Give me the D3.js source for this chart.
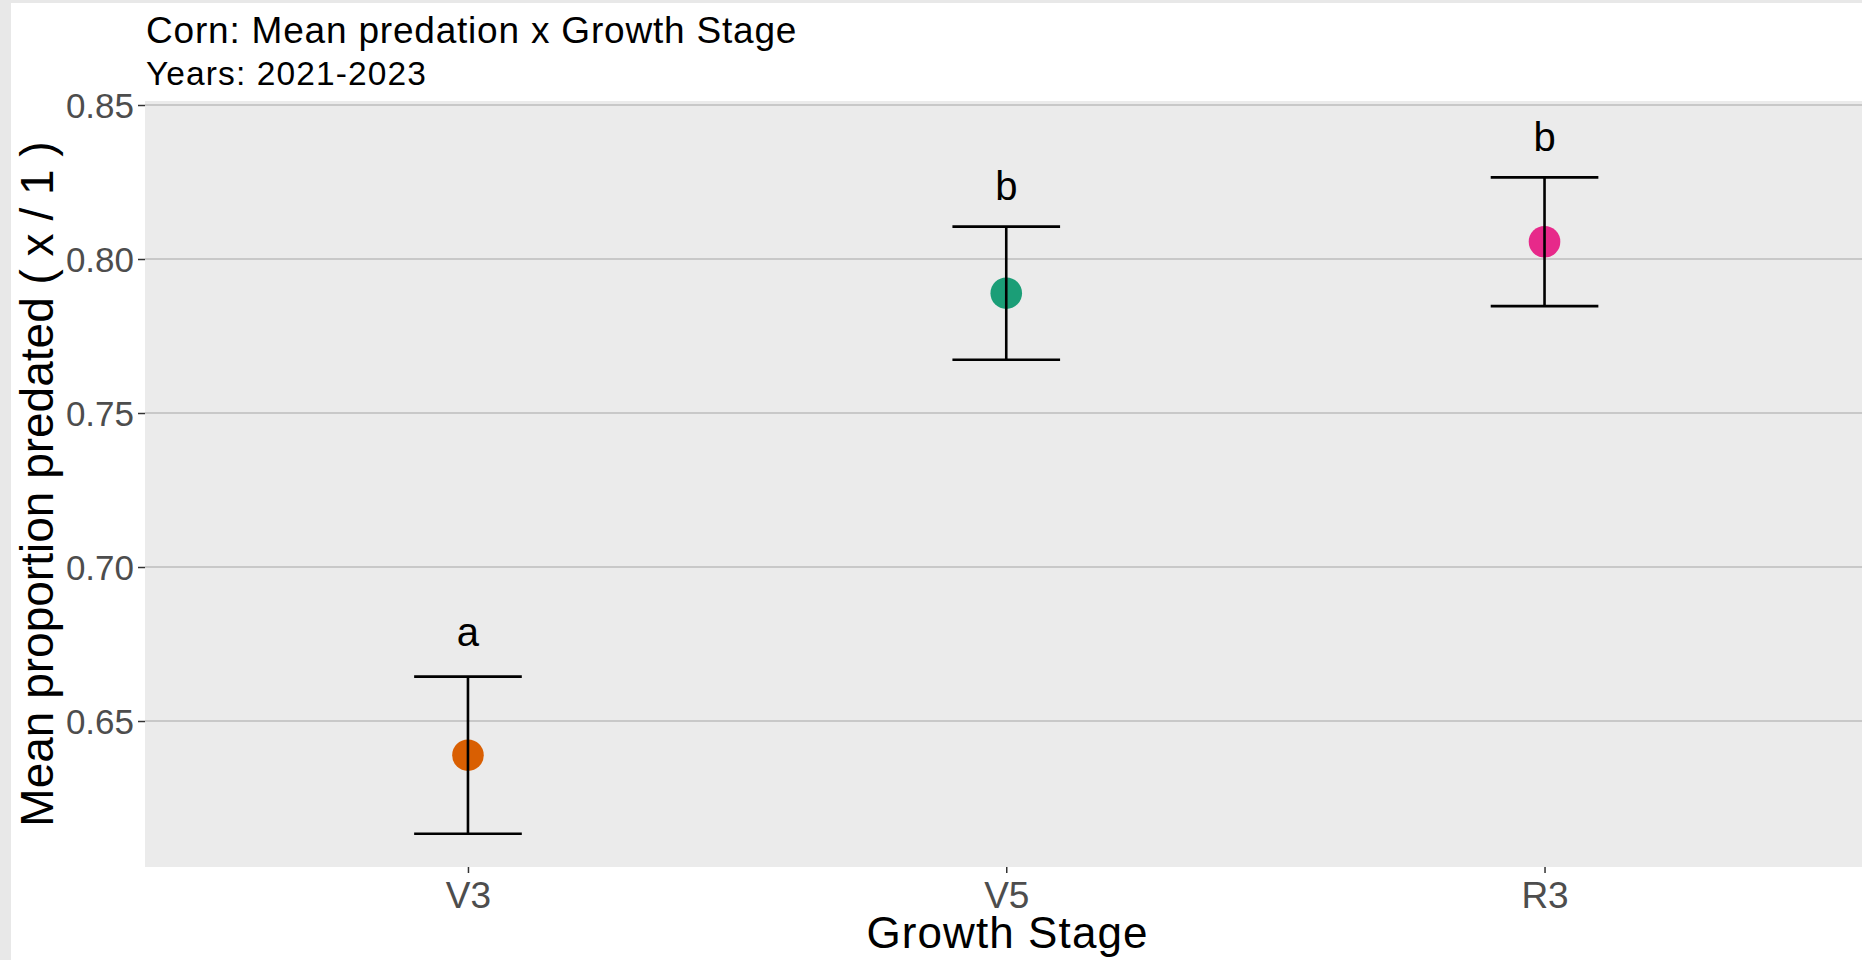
<!DOCTYPE html>
<html>
<head>
<meta charset="utf-8">
<script src="https://cdn.jsdelivr.net/npm/d3@7"></script>
<style>
  html, body { margin: 0; padding: 0; background: #ffffff; }
  svg { display: block; }
  text { font-family: "Liberation Sans", Arial, sans-serif; }
</style>
</head>
<body>
<script>
// Corn predation by growth stage (mean ± SE), 2021-2023
const stages = ["V3", "V5", "R3"];
const meanPredation = [0.6389, 0.7889, 0.8056];
const stdError = [0.0255, 0.0216, 0.0209];
const groupLetters = ["a", "b", "b"];
const stageColors = ["#D95F02", "#1B9E77", "#E7298A"];
const yTicks = [0.65, 0.70, 0.75, 0.80, 0.85];

const W = 1862, H = 960;
const panel = { left: 145, right: 1867.5, top: 101, bottom: 867 };
const letterGap = 0.0135;

const data = stages.map((s, i) => ({
  stage: s,
  mean: meanPredation[i],
  se: stdError[i],
  letter: groupLetters[i],
  color: stageColors[i]
}));

const svg = d3.select("body").append("svg")
  .attr("width", W).attr("height", H);

// outer frame strips
svg.append("rect").attr("x", 0).attr("y", 0).attr("width", W).attr("height", H).attr("fill", "#ffffff");
svg.append("rect").attr("x", 0).attr("y", 0).attr("width", W).attr("height", 3).attr("fill", "#e8e8e8");
svg.append("rect").attr("x", 0).attr("y", 0).attr("width", 11).attr("height", H).attr("fill", "#e8e8e8");

const x = d3.scalePoint().domain(stages)
  .range([panel.left, panel.right]).padding(0.6);
const y = d3.scaleLinear().domain([0.6026, 0.8513])
  .range([panel.bottom, panel.top]);
const step = x.step();

// panel background
svg.append("rect")
  .attr("x", panel.left).attr("y", panel.top)
  .attr("width", panel.right - panel.left).attr("height", panel.bottom - panel.top)
  .attr("fill", "#ebebeb");

// horizontal grid
svg.append("g").selectAll("line").data(yTicks).join("line")
  .attr("x1", panel.left).attr("x2", panel.right)
  .attr("y1", d => y(d)).attr("y2", d => y(d))
  .attr("stroke", "#bdbdbd").attr("stroke-width", 1.5);

// y axis
const yAxis = svg.append("g")
  .attr("transform", `translate(${panel.left},0)`)
  .call(d3.axisLeft(y).tickValues(yTicks).tickFormat(d3.format(".2f"))
    .tickSizeInner(7).tickSizeOuter(0).tickPadding(4));
yAxis.select(".domain").remove();
yAxis.selectAll(".tick line").attr("stroke", "#333333").attr("stroke-width", 1.5);
yAxis.selectAll(".tick text")
  .attr("fill", "#4d4d4d").attr("font-size", 35)
  .attr("font-family", "'Liberation Sans', Arial, sans-serif")
  .attr("dy", "0.36em");

// x axis
const xAxis = svg.append("g")
  .attr("transform", `translate(0,${panel.bottom})`)
  .call(d3.axisBottom(x).tickSizeInner(6).tickSizeOuter(0).tickPadding(9));
xAxis.select(".domain").remove();
xAxis.selectAll(".tick line").attr("stroke", "#333333").attr("stroke-width", 1.5);
xAxis.selectAll(".tick text")
  .attr("fill", "#4d4d4d").attr("font-size", 37)
  .attr("font-family", "'Liberation Sans', Arial, sans-serif")
  .attr("dy", "0.71em");

// mean points
svg.append("g").selectAll("circle").data(data).join("circle")
  .attr("cx", d => x(d.stage)).attr("cy", d => y(d.mean))
  .attr("r", 15.8).attr("fill", d => d.color);

// error bars (± SE), drawn over the points
const capHalf = 0.1 * step;
const eb = svg.append("g").attr("stroke", "#000000").attr("stroke-width", 2.6).attr("fill", "none");
eb.selectAll("path").data(data).join("path")
  .attr("d", d => {
    const cx = x(d.stage), yl = y(d.mean - d.se), yh = y(d.mean + d.se);
    return `M${cx - capHalf},${yh}H${cx + capHalf}M${cx},${yh}V${yl}M${cx - capHalf},${yl}H${cx + capHalf}`;
  });

// significance letters, centred on their ink box
const ctx = document.createElement("canvas").getContext("2d");
const letterSize = 40;
ctx.font = `${letterSize}px 'Liberation Sans', Arial, sans-serif`;
svg.append("g").selectAll("text").data(data).join("text")
  .attr("x", d => x(d.stage))
  .attr("y", d => {
    const m = ctx.measureText(d.letter);
    const shift = (m.actualBoundingBoxAscent - m.actualBoundingBoxDescent) / 2;
    return y(d.mean + d.se + letterGap) + shift;
  })
  .attr("text-anchor", "middle")
  .attr("font-size", letterSize).attr("fill", "#000000")
  .text(d => d.letter);

// titles
svg.append("text").attr("x", 146).attr("y", 42.5)
  .attr("font-size", 37).attr("letter-spacing", 0.8).attr("fill", "#000000")
  .text("Corn: Mean predation x Growth Stage");
svg.append("text").attr("x", 146).attr("y", 85)
  .attr("font-size", 33.5).attr("letter-spacing", 1.1).attr("fill", "#000000")
  .text("Years: 2021-2023");

// axis titles
svg.append("text")
  .attr("x", (panel.left + W) / 2 + 4).attr("y", 948)
  .attr("text-anchor", "middle").attr("font-size", 44).attr("letter-spacing", 1.1).attr("fill", "#000000")
  .text("Growth Stage");
svg.append("text")
  .attr("transform", `translate(53,${(panel.top + panel.bottom) / 2}) rotate(-90)`)
  .attr("text-anchor", "middle").attr("font-size", 46).attr("fill", "#000000")
  .text("Mean proportion predated ( x / 1 )");
</script>
</body>
</html>
